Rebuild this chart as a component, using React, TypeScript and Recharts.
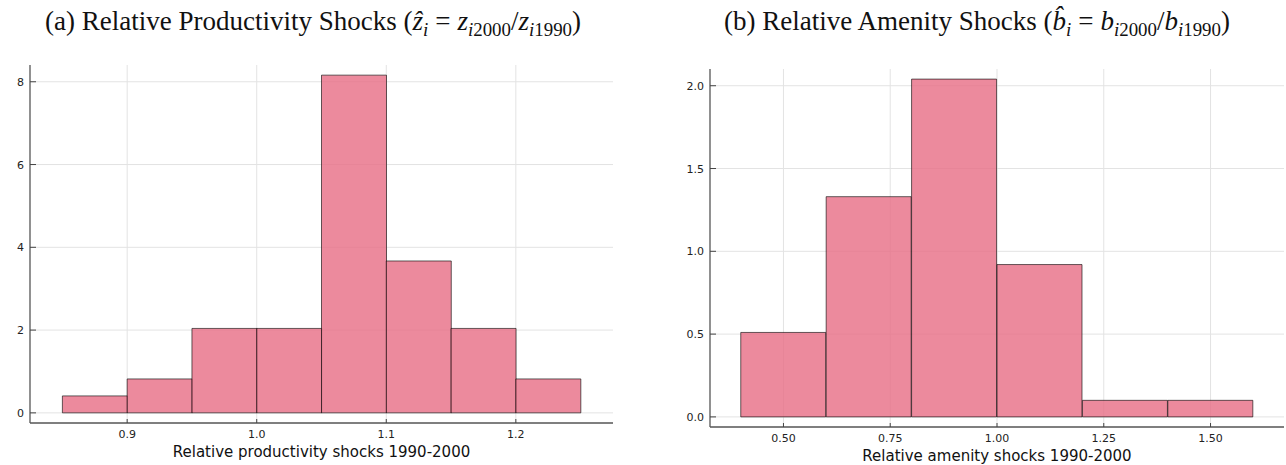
import React from 'react';
import { ComposedChart, Bar, XAxis, YAxis, CartesianGrid } from 'recharts';

// (a) productivity shocks, density per bin
const prodBinLo = [0.85, 0.9, 0.95, 1.0, 1.05, 1.1, 1.15, 1.2];
const prodBinHi = [0.9, 0.95, 1.0, 1.05, 1.1, 1.15, 1.2, 1.25];
const prodDensity = [0.41, 0.82, 2.04, 2.04, 8.16, 3.67, 2.04, 0.82];
const prodXTicks = [0.9, 1.0, 1.1, 1.2];
const prodYTicks = [0, 2, 4, 6, 8];

// (b) amenity shocks, density per bin
const amenBinLo = [0.4, 0.6, 0.8, 1.0, 1.2, 1.4];
const amenBinHi = [0.6, 0.8, 1.0, 1.2, 1.4, 1.6];
const amenDensity = [0.51, 1.33, 2.04, 0.92, 0.1, 0.1];
const amenXTicks = [0.5, 0.75, 1.0, 1.25, 1.5];
const amenYTicks = [0, 0.5, 1.0, 1.5, 2.0];

const SANS = '"DejaVu Sans", sans-serif';
const SERIF = '"Liberation Serif", serif';

interface HistProps {
  lo: number[];
  hi: number[];
  dens: number[];
  xTicks: number[];
  yTicks: number[];
  xDomain: [number, number];
  yDomain: [number, number];
  xFmt: (v: number) => string;
  yFmt: (v: number) => string;
  xLabel: string;
  width: number;
  top: number;
  right: number;
  yAxisWidth: number;
  xAxisHeight: number;
  labelOffset: number;
}

const Hist: React.FC<HistProps> = (p) => {
  const data = p.lo.map((l, i) => ({ mid: (l + p.hi[i]) / 2, lo: l, hi: p.hi[i], dens: p.dens[i] }));

  // ticks point inward, like Plots.jl
  const xTick = (t: any) => (
    <g>
      <line x1={t.x} x2={t.x} y1={t.y} y2={t.y - 4} stroke="#444" strokeWidth={1} />
      <text x={t.x} y={t.y + 15} textAnchor="middle" fontSize={11} fontFamily={SANS} fill="#222">
        {p.xFmt(t.payload.value)}
      </text>
    </g>
  );

  const yTick = (t: any) => (
    <g>
      <line x1={t.x} x2={t.x + 6} y1={t.y} y2={t.y} stroke="#444" strokeWidth={1} />
      <text x={t.x - 6} y={t.y + 4} textAnchor="end" fontSize={11} fontFamily={SANS} fill="#222">
        {p.yFmt(t.payload.value)}
      </text>
    </g>
  );

  return (
    <ComposedChart
      width={p.width}
      height={465}
      data={data}
      margin={{ top: p.top, right: p.right, bottom: 0, left: 0 }}
      barCategoryGap={0}
      barGap={0}
    >
      <CartesianGrid
        stroke="#e3e3e3"
        strokeWidth={1}
        syncWithTicks
        horizontalValues={p.yTicks}
        verticalValues={p.xTicks}
      />
      <XAxis
        type="number"
        dataKey="mid"
        domain={p.xDomain}
        ticks={p.xTicks}
        allowDataOverflow
        height={p.xAxisHeight}
        tickSize={0}
        tickMargin={0}
        tick={xTick}
        tickLine={false}
        axisLine={{ stroke: '#555', strokeWidth: 1.3 }}
        label={{
          value: p.xLabel,
          position: 'insideBottom',
          offset: p.labelOffset,
          style: { fontSize: 15, fontFamily: SANS, fill: '#111' },
        }}
      />
      <YAxis
        type="number"
        domain={p.yDomain}
        ticks={p.yTicks}
        allowDataOverflow
        width={p.yAxisWidth}
        tickSize={0}
        tickMargin={0}
        tick={yTick}
        tickLine={false}
        axisLine={{ stroke: '#555', strokeWidth: 1.3 }}
      />
      <Bar
        dataKey="dens"
        fill="#E76D85"
        fillOpacity={0.8}
        stroke="#000"
        strokeOpacity={0.6}
        strokeWidth={1}
        isAnimationActive={false}
      />
    </ComposedChart>
  );
};

const titleStyle: React.CSSProperties = {
  position: 'absolute',
  top: 5,
  transform: 'translateX(-50%)',
  whiteSpace: 'nowrap',
  fontFamily: SERIF,
  fontSize: 27,
  lineHeight: '32px',
  color: '#111',
};

const subStyle: React.CSSProperties = { fontSize: '70%', verticalAlign: '-0.3em', lineHeight: 0 };
const eqStyle: React.CSSProperties = { margin: '0 7px' };

export default function App() {
  return (
    <div style={{ position: 'absolute', left: 0, top: 0, width: 1286, height: 465, background: '#fff' }}>
      <div style={{ ...titleStyle, left: 313 }}>
        (a) Relative Productivity Shocks (<i>ẑ</i>
        <span style={subStyle}><i>i</i></span>
        <span style={eqStyle}>=</span>
        <i>z</i>
        <span style={subStyle}><i>i</i>2000</span>/<i>z</i>
        <span style={subStyle}><i>i</i>1990</span>)
      </div>
      <div style={{ ...titleStyle, left: 977 }}>
        (b) Relative Amenity Shocks (<i>b̂</i>
        <span style={subStyle}><i>i</i></span>
        <span style={eqStyle}>=</span>
        <i>b</i>
        <span style={subStyle}><i>i</i>2000</span>/<i>b</i>
        <span style={subStyle}><i>i</i>1990</span>)
      </div>
      <div style={{ position: 'absolute', left: 0, top: 0 }}>
        <Hist
          lo={prodBinLo}
          hi={prodBinHi}
          dens={prodDensity}
          xTicks={prodXTicks}
          yTicks={prodYTicks}
          xDomain={[0.825, 1.275]}
          yDomain={[-0.245, 8.405]}
          xFmt={(v) => v.toFixed(1)}
          yFmt={(v) => String(v)}
          xLabel="Relative productivity shocks 1990-2000"
          width={640}
          top={65}
          right={27}
          yAxisWidth={30}
          xAxisHeight={42}
          labelOffset={8}
        />
      </div>
      <div style={{ position: 'absolute', left: 640, top: 0 }}>
        <Hist
          lo={amenBinLo}
          hi={amenBinHi}
          dens={amenDensity}
          xTicks={amenXTicks}
          yTicks={amenYTicks}
          xDomain={[0.328, 1.672]}
          yDomain={[-0.061, 2.101]}
          xFmt={(v) => v.toFixed(2)}
          yFmt={(v) => v.toFixed(1)}
          xLabel="Relative amenity shocks 1990-2000"
          width={646}
          top={69}
          right={2}
          yAxisWidth={70}
          xAxisHeight={38}
          labelOffset={4}
        />
      </div>
    </div>
  );
}
